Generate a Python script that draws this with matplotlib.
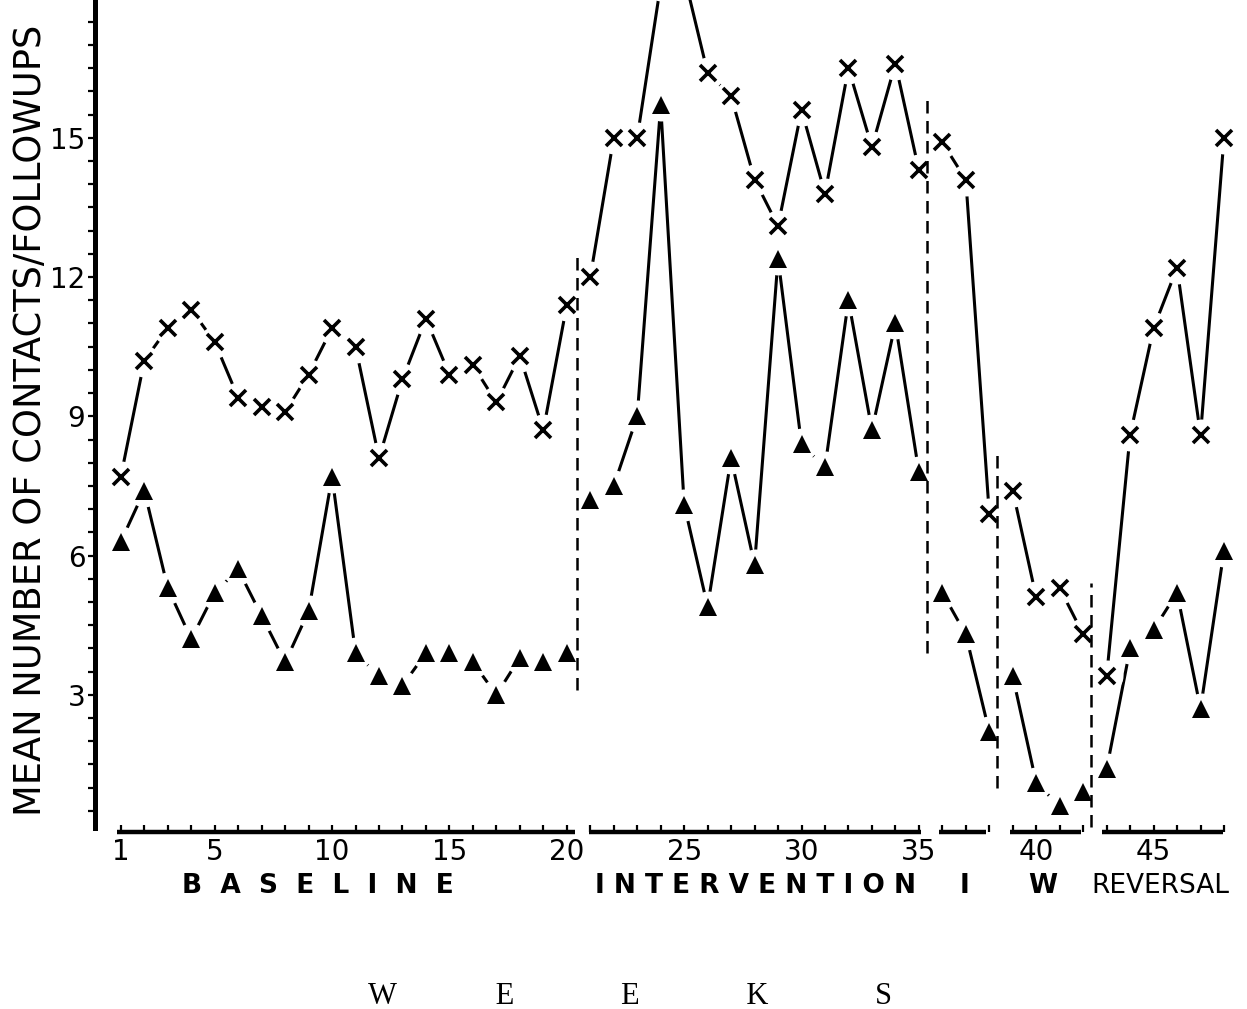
import matplotlib.pyplot as plt
import numpy as np

# weekly means
weeks = np.arange(1, 49)
contacts = [7.7, 10.2, 10.9, 11.3, 10.6, 9.4, 9.2, 9.1, 9.9, 10.9,
            10.5, 8.1, 9.8, 11.1, 9.9, 10.1, 9.3, 10.3, 8.7, 11.4,
            12.0, 15.0, 15.0, 18.3, 18.5, 16.4, 15.9, 14.1, 13.1, 15.6,
            13.8, 16.5, 14.8, 16.6, 14.3,
            14.9, 14.1, 6.9,
            7.4, 5.1, 5.3, 4.3,
            3.4, 8.6, 10.9, 12.2, 8.6, 15.0]
followups = [6.3, 7.4, 5.3, 4.2, 5.2, 5.7, 4.7, 3.7, 4.8, 7.7,
             3.9, 3.4, 3.2, 3.9, 3.9, 3.7, 3.0, 3.8, 3.7, 3.9,
             7.2, 7.5, 9.0, 15.7, 7.1, 4.9, 8.1, 5.8, 12.4, 8.4,
             7.9, 11.5, 8.7, 11.0, 7.8,
             5.2, 4.3, 2.2,
             3.4, 1.1, 0.6, 0.9,
             1.4, 4.0, 4.4, 5.2, 2.7, 6.1]

phase_names = ['B  A  S  E  L  I  N  E', 'I N T E R V E N T I O N', 'I', 'W', 'REVERSAL']
phase_first = [1, 21, 36, 39, 43]
phase_last = [20, 35, 38, 42, 48]

xtick_weeks = [1, 5, 10, 15, 20, 25, 30, 35, 40, 45]
ytick_vals = [3, 6, 9, 12, 15]

fig = plt.figure(figsize=(12.47, 10.09), dpi=100)
ax = fig.add_axes([0.0762, 0.1734, 0.9238, 0.8266])
ax.set_xlim(-0.1, 48.98)
ax.set_ylim(0, 17.97)

contacts = np.array(contacts)
followups = np.array(followups)

# each phase is drawn as its own line, with a white ring so the line stops short of the marks
for first, last in zip(phase_first, phase_last):
    sel = (weeks >= first) & (weeks <= last)
    for vals, mk, ms, mew in [(contacts, 'x', 11, 2.6), (followups, '^', 13, 0)]:
        ax.plot(weeks[sel], vals[sel], '-', color='black', lw=2.2, zorder=2)
        ax.plot(weeks[sel], vals[sel], 'o', color='white', ms=23, mew=0, zorder=3)
        ax.plot(weeks[sel], vals[sel], mk, color='black', ms=ms, mew=mew, zorder=4)

# dashed phase boundaries
bound_x = [20.45, 35.35, 38.35, 42.35]
bound_lo = [3.1, 3.9, 1.0, 0.15]
bound_hi = [12.5, 15.95, 8.3, 5.4]
for bx, lo, hi in zip(bound_x, bound_lo, bound_hi):
    ax.plot([bx, bx], [lo, hi], color='black', lw=1.8, dashes=(5, 3), zorder=5)

# broken x axis: one segment per phase, with a small tick at every week
seg_lo = [0.85, 20.95, 35.85, 38.9, 42.8]
seg_hi = [20.35, 35.1, 37.85, 41.9, 47.95]
for lo, hi, first, last in zip(seg_lo, seg_hi, phase_first, phase_last):
    ax.plot([lo, hi], [0.04, 0.04], color='black', lw=3.2, solid_capstyle='butt', clip_on=False)
    ax.vlines(np.arange(first, last + 1), 0.04, 0.2, color='black', lw=1.6, clip_on=False)

label_x = [9.39, 28.06, 36.96, 40.28, 45.3]
for name, lx in zip(phase_names, label_x):
    ax.text(lx, -1.12, name, ha='center', va='center', fontsize=19,
            fontweight='semibold' if name != 'REVERSAL' else 'normal', clip_on=False)

ax.text(22.7, -3.5, 'W' + ' ' * 13 + 'E' + ' ' * 14 + 'E' + ' ' * 14 + 'K' + ' ' * 14 + 'S',
        ha='center', va='center', fontsize=22, family='Liberation Serif', clip_on=False)

for side in ['top', 'right', 'bottom']:
    ax.spines[side].set_visible(False)
ax.spines['left'].set_linewidth(3.6)
ax.spines['left'].set_bounds(0.12, 17.97)

ax.set_xticks(xtick_weeks)
ax.set_xticklabels([str(w) for w in xtick_weeks], fontsize=20)
ax.tick_params(axis='x', length=0, pad=3)

ax.set_yticks(ytick_vals)
ax.set_yticklabels([str(v) for v in ytick_vals], fontsize=20)
ax.set_yticks(np.arange(0.5, 18, 0.5), minor=True)
ax.tick_params(axis='y', which='both', direction='out', length=5, width=1.6, pad=2)

ax.set_ylabel('MEAN NUMBER OF CONTACTS/FOLLOWUPS', fontsize=26.5)
ax.yaxis.set_label_coords(-0.04, 0.496)

fig.savefig('out.png', dpi=100)
